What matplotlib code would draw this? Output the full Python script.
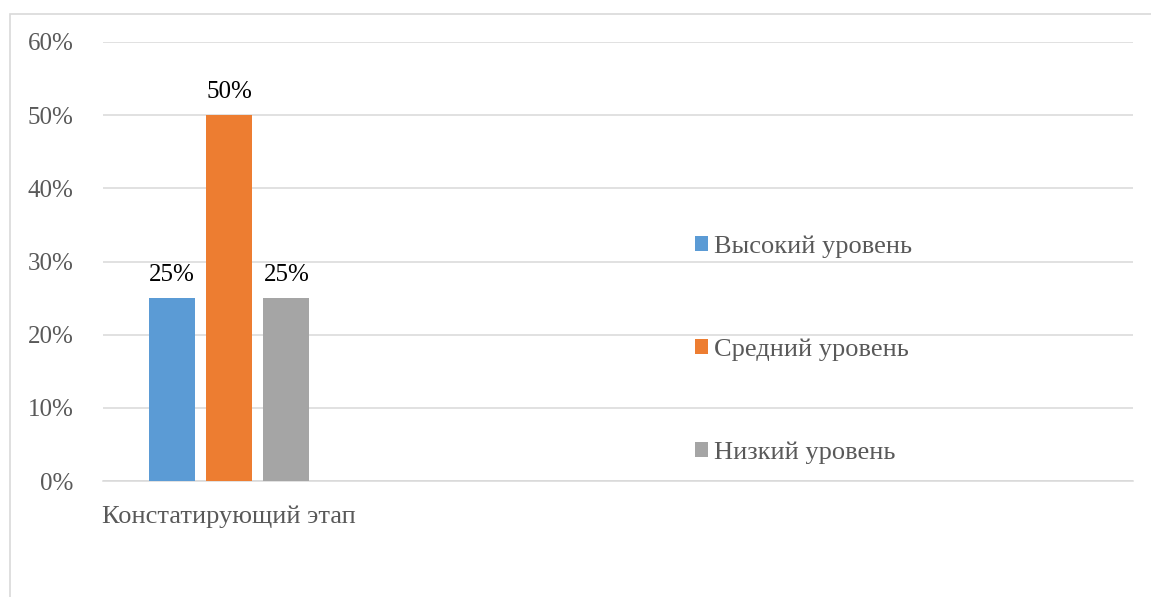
import matplotlib
matplotlib.use('Agg')
import matplotlib.pyplot as plt
from matplotlib.patches import Patch, Rectangle
from matplotlib.ticker import PercentFormatter

# Data
categories = ['Констатирующий этап']
series_names = ['Высокий уровень', 'Средний уровень', 'Низкий уровень']
series_values = [[0.25], [0.50], [0.25]]
series_colors = ['#5B9BD5', '#ED7D31', '#A5A5A5']
y_ticks = [0, 0.1, 0.2, 0.3, 0.4, 0.5, 0.6]

plt.rcParams['font.family'] = ['Liberation Serif', 'DejaVu Serif']

fig = plt.figure(figsize=(11.51, 5.97), dpi=100)
fig.patch.set_facecolor('white')

# outer chart border (only left and top visible)
fig.patches.append(Rectangle((10 / 1151, -0.1), 1.2, (597 - 14) / 597 + 0.1,
                             transform=fig.transFigure, fill=False,
                             edgecolor='#D9D9D9', linewidth=1.2))

ax = fig.add_axes([103 / 1151, (597 - 481) / 597, 1030 / 1151, 439 / 597])

bar_width = 0.1825
step = 0.228
x = list(range(len(categories)))
handles = []
for i, (name, vals, col) in enumerate(zip(series_names, series_values, series_colors)):
    pos = [xi + (i - 1) * step for xi in x]
    bars = ax.bar(pos, vals, width=bar_width, color=col, zorder=3)
    ax.bar_label(bars, labels=[f'{v:.0%}' for v in vals], padding=9,
                 fontsize=18, color='#000000')
    handles.append(Patch(facecolor=col, edgecolor='none', label=name))

ax.set_xlim(-0.5, 3.587)
ax.set_ylim(0, 0.6)
ax.set_yticks(y_ticks)
ax.yaxis.set_major_formatter(PercentFormatter(1.0, decimals=0))
ax.set_xticks(x)
ax.set_xticklabels(categories)

ax.grid(axis='y', color='#D9D9D9', linewidth=1.1, zorder=0)
ax.set_axisbelow(True)
for s in ['top', 'right', 'left']:
    ax.spines[s].set_visible(False)
ax.spines['bottom'].set_color('#D9D9D9')
ax.spines['bottom'].set_linewidth(1.1)

ax.tick_params(axis='y', length=0, pad=21, labelsize=18, labelcolor='#595959')
ax.tick_params(axis='x', length=0, pad=18, labelsize=19, labelcolor='#595959')

fig.legend(handles=handles, loc='center left',
           bbox_to_anchor=(695 / 1151, (597 - 350) / 597),
           frameon=False, fontsize=19, labelcolor='#595959',
           handlelength=0.5, handleheight=0.5, handletextpad=0.23,
           labelspacing=3.05, borderpad=0, borderaxespad=0)

fig.savefig('out.png', dpi=100)
